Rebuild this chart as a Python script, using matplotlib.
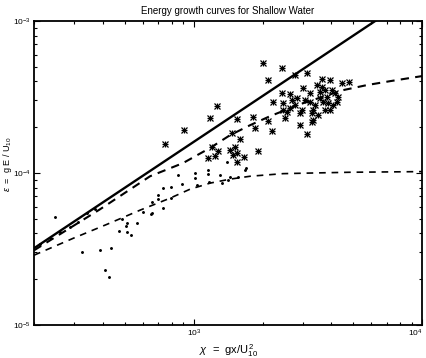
import matplotlib
matplotlib.use("Agg")
import matplotlib.pyplot as plt

plt.rcParams.update({"font.family": ["Liberation Sans", "DejaVu Sans"], "font.size": 7,
                     "mathtext.fontset": "custom", "mathtext.rm": "Liberation Sans",
                     "mathtext.it": "Liberation Sans:italic"})

# deep-water growth limit (straight line)
line_chi = [200, 10000]
line_eps = [3.2e-5, 1.6e-3]

# shallow-water growth curves
upper_chi = [200, 389, 644, 897, 1180, 1442, 1766, 2158, 2924, 4508, 5741, 7244, 10000]
upper_eps = [3.10e-5, 5.77e-5, 9.51e-5, 1.16e-4, 1.46e-4, 1.77e-4, 2.06e-4, 2.36e-4,
             2.83e-4, 3.50e-4, 3.78e-4, 4.01e-4, 4.33e-4]
lower_chi = [200, 297, 418, 582, 787, 964, 1180, 1442, 1766, 2460, 3467, 4842, 10000]
lower_eps = [2.88e-5, 3.72e-5, 4.60e-5, 5.69e-5, 6.82e-5, 7.82e-5, 8.57e-5, 9.10e-5,
             9.51e-5, 9.89e-5, 1.00e-4, 1.01e-4, 1.02e-4]

# field data, star symbols
star_chi = [2010, 2437, 2116, 2778, 3135, 3646, 3954, 4462, 4788, 1265, 1179, 907, 749,
            1548, 1819, 1856, 2116, 2203, 1472, 1596, 1203, 1156, 1240, 1278, 1443, 1517,
            1548, 1548, 1661, 1913, 1487,
            3012, 2437, 2642, 2226, 2834, 2778, 3232, 3232, 2462, 2563, 2462, 2512, 2982,
            2922, 3297, 3468, 3646, 3760, 4034, 4158, 3836, 3574, 3684, 3874, 4075, 3954,
            3760, 4242, 4285, 2922, 3297, 3135, 3330, 3330, 2695, 3073, 3398, 2642, 3503,
            3574]
star_eps = [5.27e-4, 4.88e-4, 4.07e-4, 4.39e-4, 4.53e-4, 4.13e-4, 4.07e-4, 3.89e-4, 3.95e-4,
            2.75e-4, 2.29e-4, 1.91e-4, 1.55e-4, 2.26e-4, 2.33e-4, 1.97e-4, 2.19e-4, 1.88e-4,
            1.82e-4, 1.67e-4, 1.48e-4, 1.25e-4, 1.29e-4, 1.39e-4, 1.41e-4, 1.48e-4, 1.35e-4,
            1.18e-4, 1.27e-4, 1.39e-4, 1.31e-4,
            3.61e-4, 3.34e-4, 3.29e-4, 2.92e-4, 3.10e-4, 2.79e-4, 3.34e-4, 2.92e-4, 2.87e-4,
            2.51e-4, 2.59e-4, 2.29e-4, 2.59e-4, 2.47e-4, 2.47e-4, 3.78e-4, 3.66e-4, 3.50e-4,
            3.50e-4, 3.34e-4, 3.15e-4, 3.10e-4, 2.92e-4, 2.87e-4, 2.79e-4, 2.59e-4, 2.59e-4,
            2.92e-4, 3.15e-4, 2.06e-4, 2.16e-4, 1.80e-4, 2.59e-4, 2.22e-4, 3.01e-4, 3.01e-4,
            2.79e-4, 2.66e-4, 2.40e-4, 3.40e-4]

# field data, dot symbols
dot_chi = [247, 324, 389, 435, 409, 426, 486, 511, 506, 471, 511, 532, 565, 600, 651, 698,
           734, 734, 796, 796, 854, 889, 1014, 1014, 1034, 1156, 1156, 1167, 1304, 1331,
           1414, 1443, 1564, 1678, 1400, 657, 657, 698, 235, 260, 288, 312, 341, 212, 370,
           1695]
dot_eps = [5.11e-5, 3.01e-5, 3.10e-5, 3.20e-5, 2.29e-5, 2.06e-5, 4.96e-5, 4.67e-5, 4.46e-5,
           4.13e-5, 4.07e-5, 3.89e-5, 4.67e-5, 5.52e-5, 5.35e-5, 7.13e-5, 7.93e-5, 5.86e-5,
           8.05e-5, 6.82e-5, 9.66e-5, 8.43e-5, 9.95e-5, 9.23e-5, 8.30e-5, 1.04e-4, 9.80e-5,
           8.69e-5, 9.66e-5, 8.55e-5, 8.95e-5, 9.37e-5, 9.37e-5, 1.04e-4, 1.18e-4, 6.42e-5,
           5.43e-5, 6.71e-5, 3.72e-5, 4.07e-5, 4.39e-5, 4.74e-5, 5.43e-5, 3.40e-5, 5.77e-5,
           1.07e-4]

fig = plt.figure(figsize=(4.26, 3.58), dpi=100)
ax = fig.add_axes([0.080, 0.092, 0.911, 0.850])

ax.plot(line_chi, line_eps, "k-", lw=1.7)
ax.plot(upper_chi, upper_eps, "k--", lw=1.5, dashes=(4, 3))
ax.plot(lower_chi, lower_eps, "k--", lw=1.2, dashes=(4, 3.5))
# matlab-style asterisk: plus + cross
ax.plot(star_chi, star_eps, "kx", ms=4, mew=0.9, ls="none")
ax.plot(star_chi, star_eps, "k+", ms=4.5, mew=0.9, ls="none")
ax.plot(dot_chi, dot_eps, "k.", ms=2.2, ls="none")

ax.set_xscale("log"); ax.set_yscale("log")
ax.set_xlim(200, 1e4); ax.set_ylim(1e-5, 1e-3)
ax.tick_params(which="both", direction="in", top=True, right=True, width=0.8)
ax.tick_params(which="major", length=4, labelsize=6, pad=2)
ax.tick_params(which="minor", length=2)
for s in ax.spines.values():
    s.set_linewidth(1.3)

fig.canvas.draw()
xt = ax.get_xticklabels()
for lab, v in zip(xt, ax.get_xticks()):
    if v >= 1e4:
        lab.set_horizontalalignment("right")

ax.set_title("Energy growth curves for Shallow Water", fontsize=7, pad=5)
ax.set_xlabel(r"$\chi$  =  gx/U$_{10}^{\,2}$", fontsize=8)
ax.xaxis.set_label_coords(0.5, -0.055)
ax.set_ylabel(r"$\epsilon$  =  g E / U$_{10}$", fontsize=6.5)
ax.yaxis.set_label_coords(-0.053, 0.53)

fig.savefig("out.png", dpi=100)
